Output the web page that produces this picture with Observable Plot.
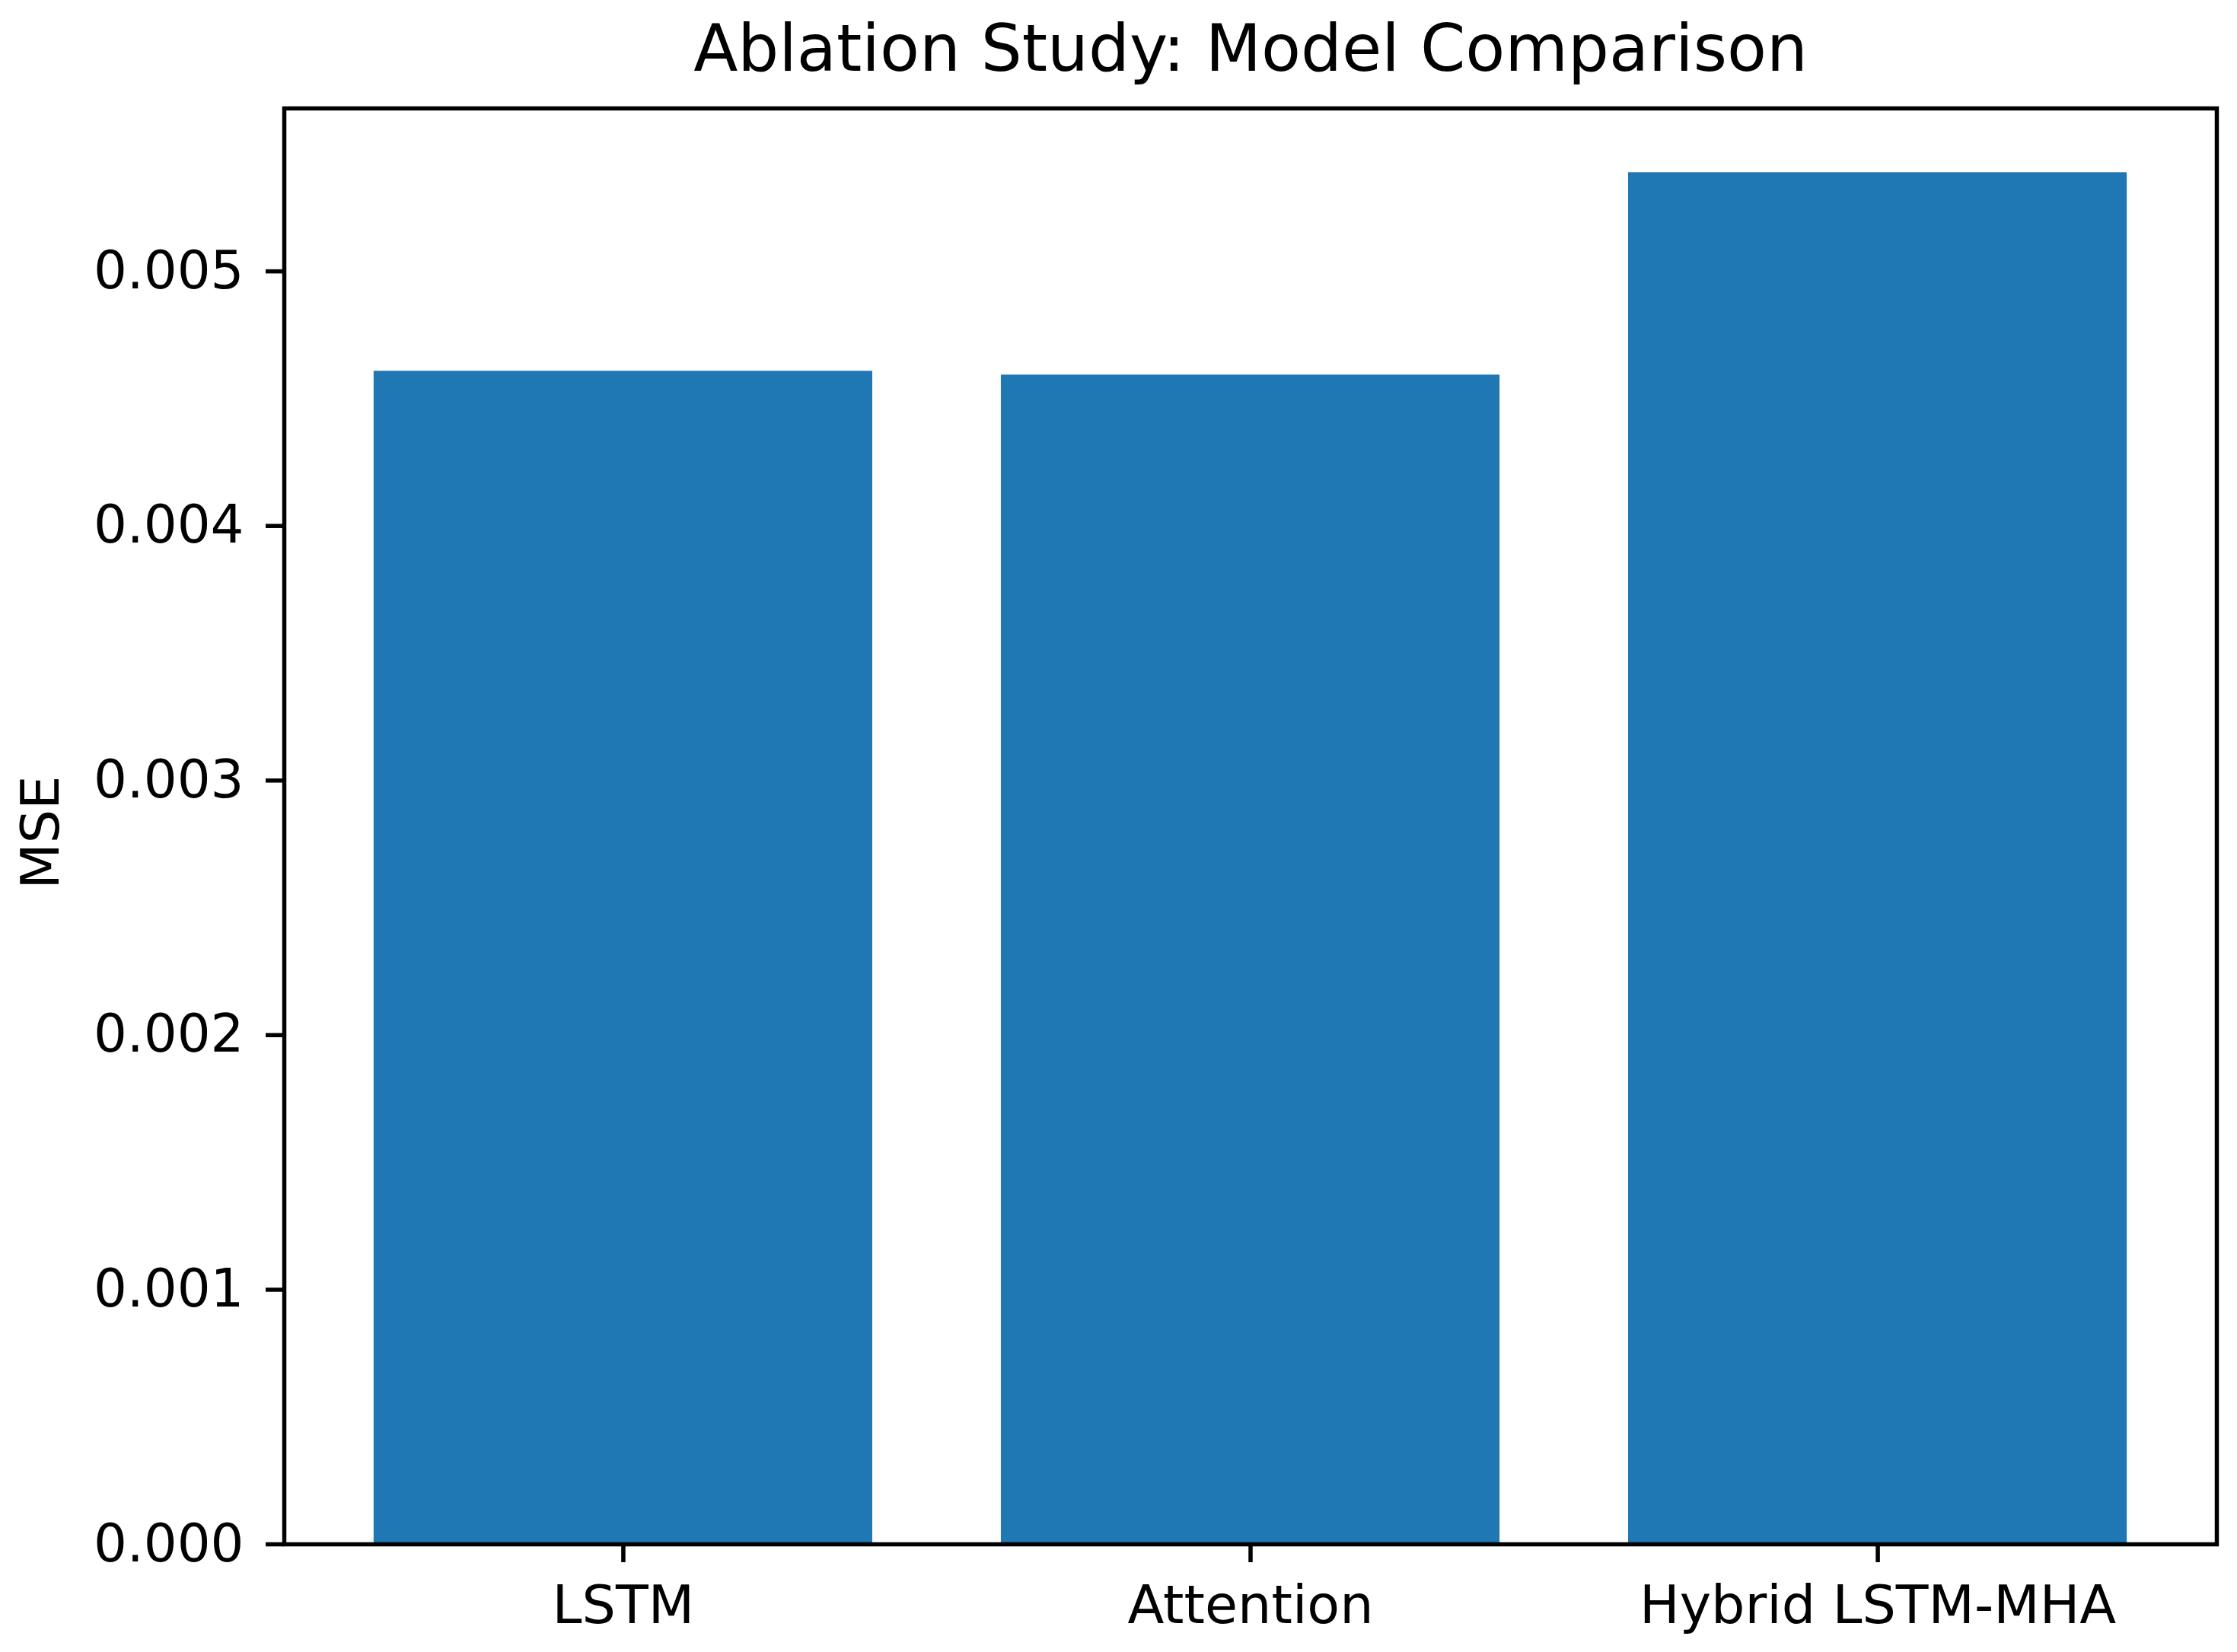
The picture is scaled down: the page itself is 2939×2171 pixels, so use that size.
<!DOCTYPE html>
<html>
<head>
<meta charset="utf-8">
<script src="https://cdn.jsdelivr.net/npm/d3@7"></script>
<script src="https://cdn.jsdelivr.net/npm/@observablehq/plot@0.6"></script>
<style>
  html, body { margin: 0; padding: 0; background: white; }
  svg { display: block; }
</style>
</head>
<body>
<script>
const models = ["LSTM", "Attention", "Hybrid LSTM-MHA"];
const mse = [0.004608, 0.004593, 0.005388];
const yTicks = [0, 0.001, 0.002, 0.003, 0.004, 0.005];
const titleText = "Ablation Study: Model Comparison";
const yLabel = "MSE";

const data = models.map((m, i) => ({model: m, mse: mse[i]}));

const chart = Plot.plot({
  width: 2939,
  height: 2171,
  marginLeft: 373,
  marginRight: 27,
  marginTop: 142,
  marginBottom: 142,
  style: {fontFamily: "DejaVu Sans", background: "white", color: "black"},
  x: {domain: models, paddingInner: 0.205, paddingOuter: 0.143, align: 0.5, round: false, label: null},
  y: {domain: [0, 0.00564], label: null},
  marks: [
    Plot.barY(data, {x: "model", y: "mse", fill: "#1f77b4"}),
    Plot.frame({stroke: "black", strokeWidth: 5.5}),
    Plot.axisX({tickSize: 24, tickPadding: 30, fontSize: 70, strokeWidth: 5.5, label: null}),
    Plot.axisY({ticks: yTicks, tickFormat: d3.format(".3f"), tickSize: 24, tickPadding: 29, fontSize: 69, strokeWidth: 5.5, label: null}),
    Plot.text([titleText], {text: d => d, frameAnchor: "top", textAnchor: "middle", dy: -77, fontSize: 85, lineAnchor: "middle", fill: "black"}),
    Plot.text([yLabel], {text: d => d, frameAnchor: "left", textAnchor: "middle", rotate: -90, dx: -319, dy: 8, fontSize: 70, lineAnchor: "middle", fill: "black"})
  ]
});
document.body.appendChild(chart);
</script>
</body>
</html>
